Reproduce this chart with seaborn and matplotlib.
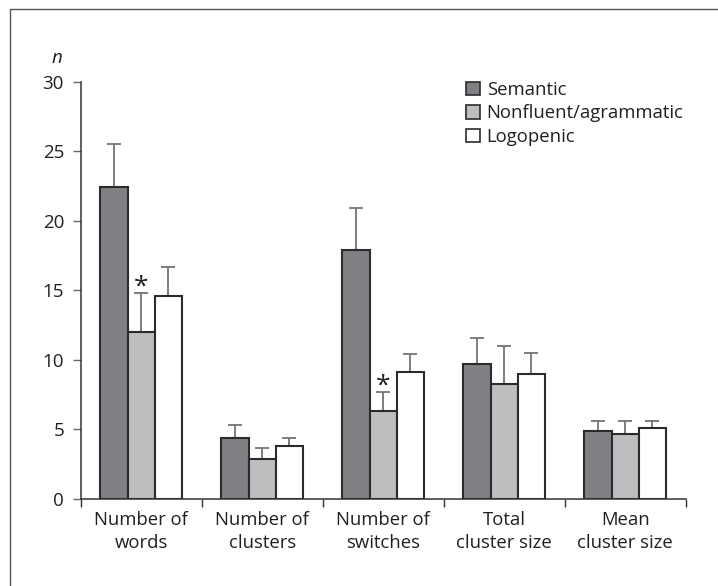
import matplotlib
matplotlib.use("Agg")
import matplotlib.pyplot as plt
from matplotlib.lines import Line2D
import pandas as pd
import seaborn as sns

# values
measures = ["Number of\nwords", "Number of\nclusters", "Number of\nswitches",
            "Total\ncluster size", "Mean\ncluster size"]
groups = ["Semantic", "Nonfluent/agrammatic", "Logopenic"]
semantic = [22.4, 4.4, 17.9, 9.7, 4.9]
nonfluent = [12.0, 2.9, 6.3, 8.3, 4.7]
logopenic = [14.6, 3.8, 9.1, 9.0, 5.1]
semantic_top = [25.5, 5.3, 20.9, 11.6, 5.6]
nonfluent_top = [14.8, 3.7, 7.7, 11.0, 5.6]
logopenic_top = [16.7, 4.4, 10.4, 10.5, 5.6]
stars = [[False, True, False], [False, False, False], [False, True, False],
         [False, False, False], [False, False, False]]
colors = ["#7f8084", "#bdbec0", "#ffffff"]

df = pd.DataFrame({
    "measure": measures * 3,
    "group": sum([[g] * len(measures) for g in groups], []),
    "n": semantic + nonfluent + logopenic,
})
tops = [semantic_top, nonfluent_top, logopenic_top]
means = [semantic, nonfluent, logopenic]

sns.set_style("white")
plt.rcParams["font.family"] = ["Open Sans", "DejaVu Sans"]
ink = "#231f20"

fig = plt.figure(figsize=(7.18, 5.86), dpi=100)
ax = fig.add_axes([0.1124, 0.1485, 0.8426, 0.712])

sns.barplot(data=df, x="measure", y="n", hue="group", hue_order=groups,
            palette=colors, width=0.675, gap=0, errorbar=None,
            edgecolor="#2b2b2b", linewidth=1.5, saturation=1, ax=ax)

bar_containers = list(ax.containers)
for k, cont in enumerate(bar_containers):
    for i, bar in enumerate(cont.patches):
        x = bar.get_x() + bar.get_width() / 2
        m = means[k][i]
        ax.errorbar(x, m, yerr=[[0], [tops[k][i] - m]], fmt="none",
                    ecolor="#747474", elinewidth=1.3, capsize=4.8,
                    capthick=1.3, zorder=0)
        if stars[i][k]:
            ax.text(x, tops[k][i] - 0.05, "*", ha="center", va="baseline",
                    fontsize=19, color=ink)

ax.set_ylim(0, 30)
ax.set_xlim(-0.5, len(measures) - 0.5)
ax.set_yticks([0, 5, 10, 15, 20, 25, 30])
ax.set_xlabel("")
ax.set_ylabel("")
ax.set_xticks(range(len(measures)))
ax.set_xticklabels(measures, fontsize=13.3, color=ink, linespacing=1.3)
ax.set_xticks([i - 0.5 for i in range(len(measures) + 1)], minor=True)
ax.tick_params(axis="x", which="major", length=0, pad=9)
ax.tick_params(axis="x", which="minor", length=5.8, width=1, color="#333333",
               direction="out", bottom=True)
ax.tick_params(axis="y", length=6, width=1, color="#666666", direction="out",
               labelsize=13.5, labelcolor=ink, pad=6, left=True)
sns.despine(ax=ax)
for side in ["left", "bottom"]:
    ax.spines[side].set_color("#333333")
    ax.spines[side].set_linewidth(1.1)

ax.text(-0.031, 1.057, "n", transform=ax.transAxes, ha="right", va="center",
        fontsize=13.5, style="italic", color=ink)

leg = ax.legend(loc="upper right", bbox_to_anchor=(0.952, 0.862),
                bbox_transform=fig.transFigure, frameon=False, fontsize=13.3,
                handlelength=0.75, handleheight=0.75, handletextpad=0.35,
                labelspacing=0.3, borderaxespad=0, borderpad=0)
for t in leg.get_texts():
    t.set_color(ink)
for h in leg.legend_handles:
    h.set_edgecolor("#2b2b2b")
    h.set_linewidth(1.2)

# thin frame around the figure panel
fig.add_artist(Line2D([10 / 718, 10 / 718], [0, 1 - 9 / 586],
                      transform=fig.transFigure, color="#555555", lw=1))
fig.add_artist(Line2D([10 / 718, 1], [1 - 9 / 586, 1 - 9 / 586],
                      transform=fig.transFigure, color="#555555", lw=1))

fig.savefig("out.png", dpi=100)
